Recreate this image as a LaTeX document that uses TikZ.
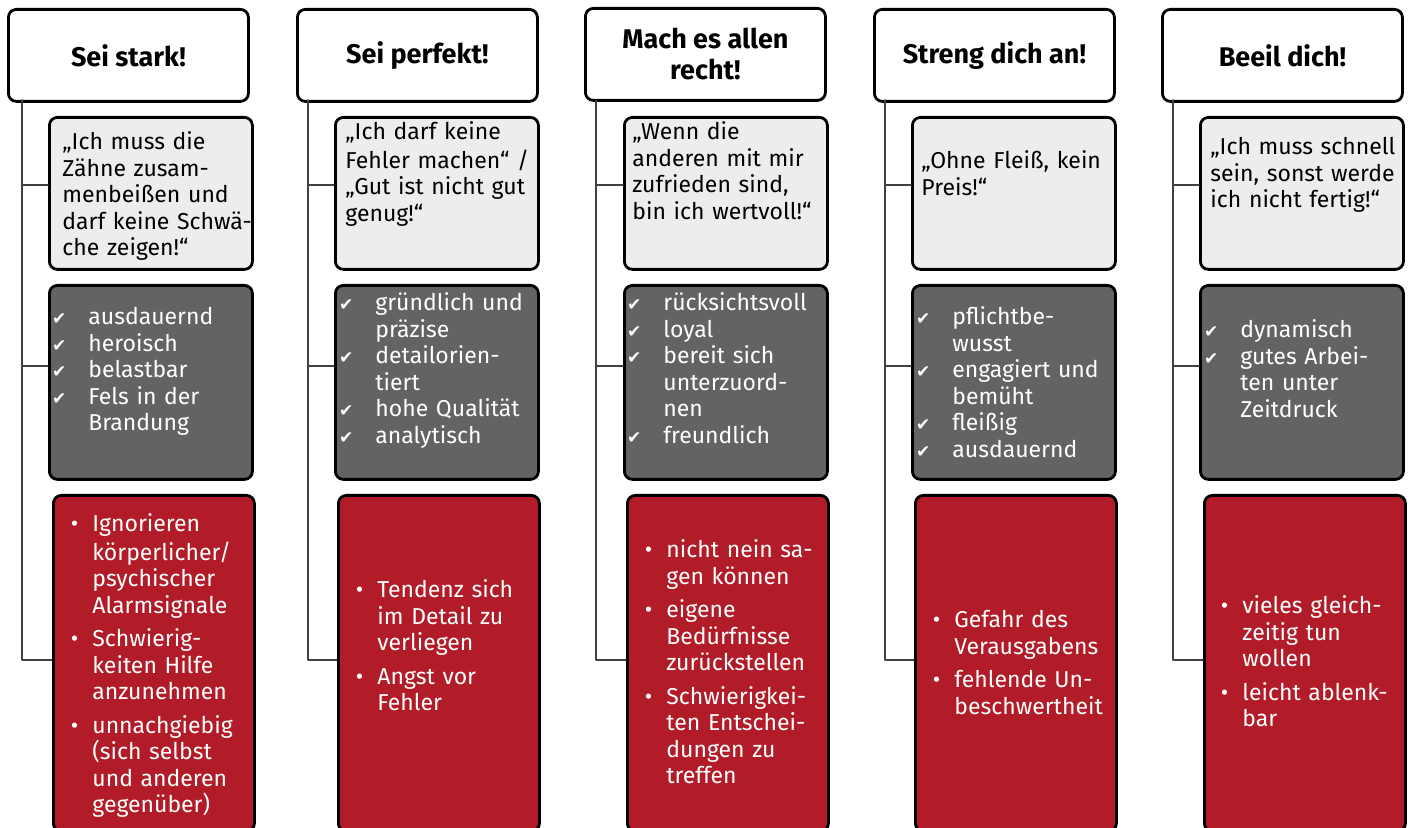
\documentclass[tikz,border=0pt]{standalone}
\usepackage{fontspec}
\setmainfont{Fira Sans}
\newfontfamily\markfont{DejaVu Sans}
\setlength{\parindent}{0pt}
\definecolor{quotefill}{RGB}{237,237,237}
\definecolor{darkgrey}{RGB}{99,99,98}
\definecolor{darkred}{RGB}{178,28,40}
\definecolor{trunkgrey}{RGB}{64,64,64}
\newcommand{\chk}{\leavevmode\llap{{\markfont\fontsize{8.5}{8.5}\selectfont ✔}\hspace{11pt}}}
\newcommand{\blt}{\leavevmode\llap{•\hspace{7pt}}}
\tikzset{
    box/.style = {draw, line width=1.4pt, rounded corners=4pt, anchor=north west, inner sep=0pt},
    head/.style = {box, fill=white, minimum width=120pt, minimum height=46pt, align=center,
        font=\fontsize{13.5}{15.5}\selectfont\bfseries},
    quotebox/.style = {box, fill=quotefill, minimum width=101.5pt, minimum height=76pt},
    greybox/.style = {box, fill=darkgrey, minimum width=101.5pt, minimum height=97pt},
    redbox/.style = {box, fill=darkred, minimum width=100.5pt, minimum height=168pt},
    boxtext/.style = {anchor=north west, inner sep=0pt, yshift=-1.5pt, text width=110pt, align=left,
        font=\fontsize{11.5}{13.25}\selectfont, execute at begin node=\strut},
    trunk/.style = {draw=trunkgrey, line width=0.7pt}
}
\begin{document}
\begin{tikzpicture}[x=0.5pt, y=-0.5pt, line cap=round, line join=round]
\useasboundingbox (0,0) rectangle (1410,828);
\clip (0,0) rectangle (1410,828);

% Sei stark!
\node[head] (h1) at (7,8) {Sei stark!};
\node[quotebox] (q1) at (48,116) {};
\node[greybox] (g1) at (48,284) {};
\node[redbox] (r1) at (52,494) {};
\coordinate (t1) at (22,100);
\draw[trunk] (t1) |- (r1.west |- 0,660);
\draw[trunk] (t1 |- 0,185) -- (q1.west |- 0,185);
\draw[trunk] (t1 |- 0,366) -- (g1.west |- 0,366);
\node[boxtext] (qt1) at (62,128) {„Ich muss die\\Zähne zusam-\\menbeißen und\\darf keine Schwä-\\che zeigen!“};
\node[boxtext, text=white] (gt1) at (88,303) {\chk ausdauernd\\\chk heroisch\\\chk belastbar\\\chk Fels in der\\Brandung};
\node[boxtext, text=white] (rt1) at (92,510) {\blt Ignorieren\\körperlicher/\\psychischer\\Alarmsignale\\[3.5pt]\blt Schwierig-\\keiten Hilfe\\anzunehmen\\[3.5pt]\blt unnachgiebig\\(sich selbst\\und anderen\\gegenüber)};

% Sei perfekt!
\node[head] (h2) at (296,8) {Sei perfekt!};
\node[quotebox] (q2) at (334,116) {};
\node[greybox] (g2) at (334,284) {};
\node[redbox] (r2) at (337,494) {};
\coordinate (t2) at (308,100);
\draw[trunk] (t2) |- (r2.west |- 0,660);
\draw[trunk] (t2 |- 0,185) -- (q2.west |- 0,185);
\draw[trunk] (t2 |- 0,366) -- (g2.west |- 0,366);
\node[boxtext] (qt2) at (345,118) {„Ich darf keine\\Fehler machen“ /\\„Gut ist nicht gut\\genug!“};
\node[boxtext, text=white] (gt2) at (375,289) {\chk gründlich und\\präzise\\\chk detailorien-\\tiert\\\chk hohe Qualität\\\chk analytisch};
\node[boxtext, text=white] (rt2) at (377,576) {\blt Tendenz sich\\im Detail zu\\verliegen\\[3.5pt]\blt Angst vor\\Fehler};

% Mach es allen recht!
\node[head] (h3) at (584,7) {Mach es allen\\recht!};
\node[quotebox] (q3) at (623,116) {};
\node[greybox] (g3) at (623,284) {};
\node[redbox] (r3) at (626,494) {};
\coordinate (t3) at (596,100);
\draw[trunk] (t3) |- (r3.west |- 0,660);
\draw[trunk] (t3 |- 0,185) -- (q3.west |- 0,185);
\draw[trunk] (t3 |- 0,366) -- (g3.west |- 0,366);
\node[boxtext] (qt3) at (632,118) {„Wenn die\\anderen mit mir\\zufrieden sind,\\bin ich wertvoll!“};
\node[boxtext, text=white] (gt3) at (663,289) {\chk rücksichtsvoll\\\chk loyal\\\chk bereit sich\\unterzuord-\\nen\\\chk freundlich};
\node[boxtext, text=white] (rt3) at (666,536) {\blt nicht nein sa-\\gen können\\[3.5pt]\blt eigene\\Bedürfnisse\\zurückstellen\\[3.5pt]\blt Schwierigkei-\\ten Entschei-\\dungen zu\\treffen};

% Streng dich an!
\node[head] (h4) at (873,8) {Streng dich an!};
\node[quotebox] (q4) at (911,116) {};
\node[greybox] (g4) at (911,284) {};
\node[redbox] (r4) at (914,494) {};
\coordinate (t4) at (885,100);
\draw[trunk] (t4) |- (r4.west |- 0,660);
\draw[trunk] (t4 |- 0,185) -- (q4.west |- 0,185);
\draw[trunk] (t4 |- 0,366) -- (g4.west |- 0,366);
\node[boxtext] (qt4) at (921,147) {„Ohne Fleiß, kein\\Preis!“};
\node[boxtext, text=white] (gt4) at (952,303) {\chk pflichtbe-\\wusst\\\chk engagiert und\\bemüht\\\chk fleißig\\\chk ausdauernd};
\node[boxtext, text=white] (rt4) at (954,606) {\blt Gefahr des\\Verausgabens\\[3.5pt]\blt fehlende Un-\\beschwertheit};

% Beeil dich!
\node[head] (h5) at (1161,8) {Beeil dich!};
\node[quotebox] (q5) at (1199,116) {};
\node[greybox] (g5) at (1199,284) {};
\node[redbox] (r5) at (1203,494) {};
\coordinate (t5) at (1173,100);
\draw[trunk] (t5) |- (r5.west |- 0,660);
\draw[trunk] (t5 |- 0,185) -- (q5.west |- 0,185);
\draw[trunk] (t5 |- 0,366) -- (g5.west |- 0,366);
\node[boxtext] (qt5) at (1210,133) {„Ich muss schnell\\sein, sonst werde\\ich nicht fertig!“};
\node[boxtext, text=white] (gt5) at (1240,316) {\chk dynamisch\\\chk gutes Arbei-\\ten unter\\Zeitdruck};
\node[boxtext, text=white] (rt5) at (1242,592) {\blt vieles gleich-\\zeitig tun\\wollen\\[3.5pt]\blt leicht ablenk-\\bar};
\end{tikzpicture}
\end{document}
